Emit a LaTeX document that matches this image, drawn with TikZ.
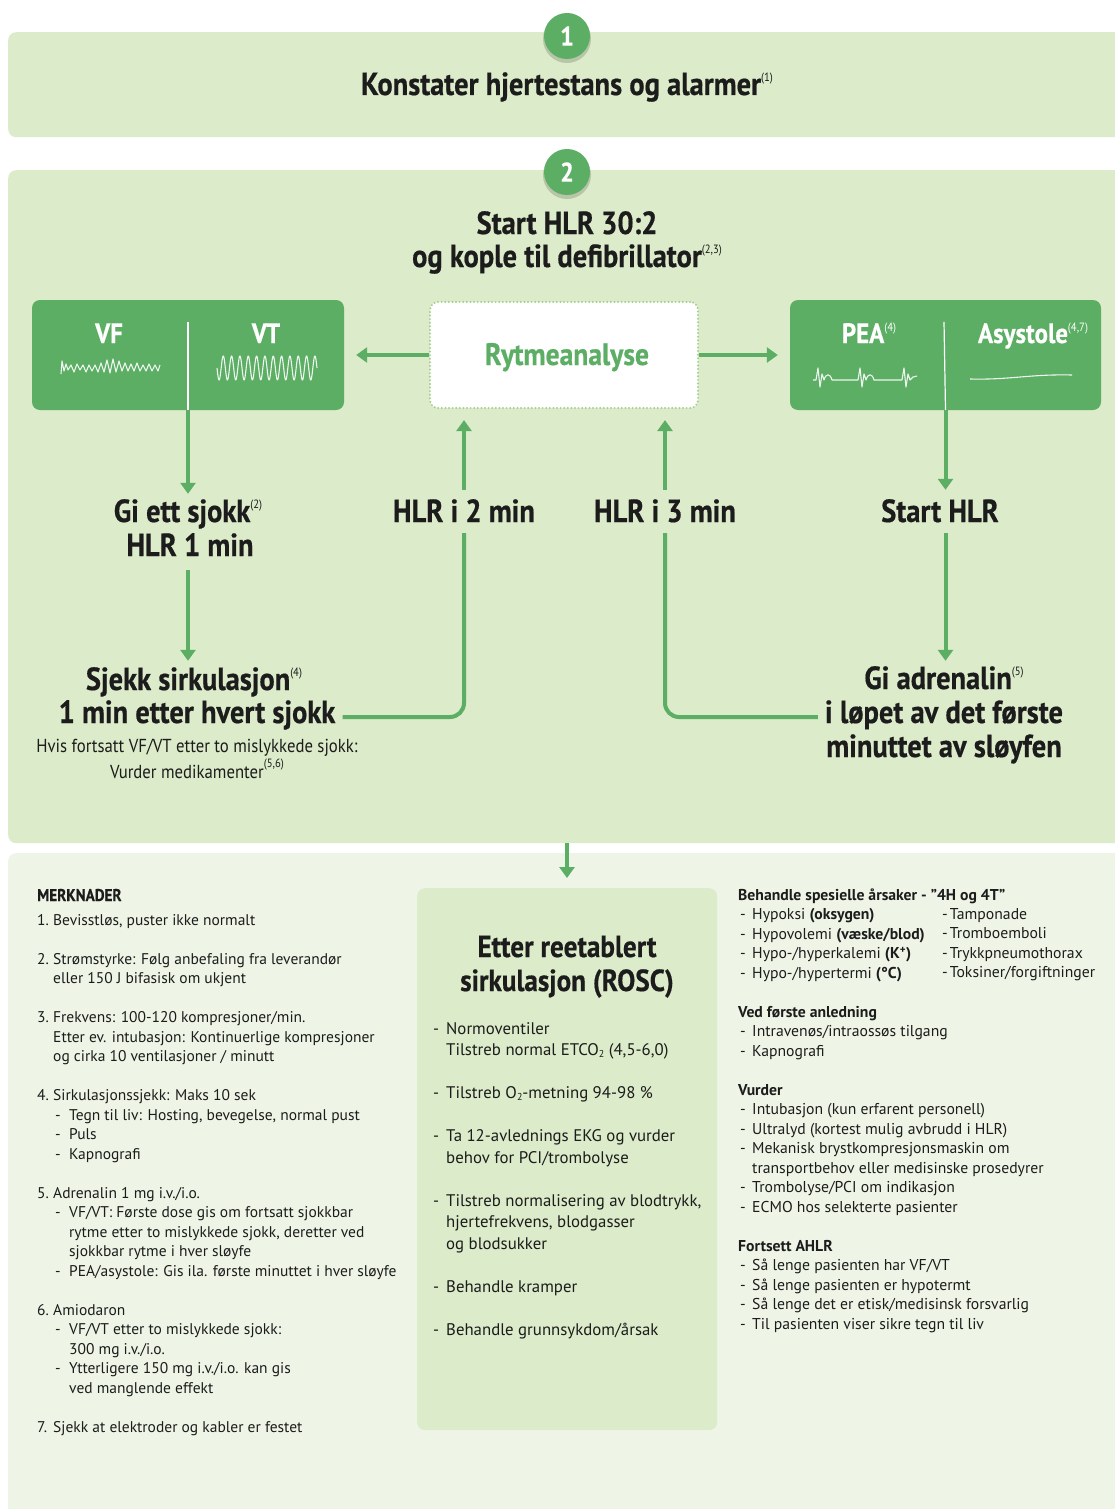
\documentclass[tikz,border=0pt]{standalone}
\usepackage{fontspec}
\setmainfont{PT Sans}
\newfontfamily\hdf{PT Sans}[FakeStretch=0.89, BoldFeatures={FakeBold=0.5}]
\usetikzlibrary{arrows.meta}
\definecolor{lg}{HTML}{DCEBC9}
\definecolor{pg}{HTML}{EEF5E6}
\definecolor{dg}{HTML}{5BAE63}
\definecolor{dotc}{HTML}{A3D08E}
\definecolor{ink}{HTML}{1C1C1C}
\newcommand\fs[2]{\fontsize{#1}{#2}\selectfont\setbox\strutbox\hbox{\vrule height .7\baselineskip depth .3\baselineskip width 0pt}}
\newcommand\sups[1]{\raisebox{0.42em}{\fontsize{12}{12}\selectfont\mdseries(#1)}}
\newcommand\mtab[2]{\begin{tabular}[t]{@{}#1@{}}#2\end{tabular}}
\newcommand\Nm[1]{\makebox[16pt][l]{#1}}
\newcommand\Cn{\hspace*{16pt}}
\newcommand\Sb{\hspace*{18pt}\makebox[14pt][l]{-}}
\newcommand\Sc{\hspace*{32pt}}
\newcommand\Rd{\makebox[13pt][l]{-}}
\newcommand\Rc{\hspace*{13pt}}
\newcommand\Qd{\hspace*{2pt}\makebox[12pt][l]{-}}
\newcommand\Qc{\hspace*{14pt}}
\newcommand\subtwo{\raisebox{-0.12em}{\fontsize{10}{10}\selectfont 2}}
\begin{document}
\begin{tikzpicture}[x=1pt,y=-1pt,
  hd/.style={font={\hdf\bfseries\fs{32}{34}}, text=ink, text height=22pt, text depth=10pt, inner xsep=7pt, inner ysep=6pt, anchor=base},
  sub/.style={font={\hdf\fs{18.8}{21}}, text=ink, inner sep=0pt, anchor=base},
  lab/.style={font={\hdf\bfseries\fs{28}{30}}, text=white, inner sep=0pt, anchor=base},
  body/.style={font={\fs{15.5}{19.5}}, text=ink, inner sep=0pt, anchor=base west},
  rbox/.style={fill=dg, rounded corners=8pt, inner sep=0pt},
  ln/.style={draw=dg, line width=4pt},
  arr/.style={draw=dg, line width=4pt, -{Triangle[width=15pt,length=11pt]}},
  ecg/.style={draw=white, line width=1.1pt, line join=round, opacity=.9},
  num/.style={circle, fill=dg, minimum size=46pt, inner sep=0pt, text=white, font={\hdf\bfseries\fs{27}{28}}}
]
\path[use as bounding box] (0,0) rectangle (1115,1509);
\fill[white] (0,0) rectangle (1115,1509);
% panels
\node[fill=lg, rounded corners=8pt, minimum width=1117pt, minimum height=105pt, anchor=north west, inner sep=0pt] (box1) at (8,32) {};
\node[fill=lg, rounded corners=8pt, minimum width=1117pt, minimum height=673pt, anchor=north west, inner sep=0pt] (box2) at (8,170) {};
\node[fill=pg, rounded corners=8pt, minimum width=1117pt, minimum height=680pt, anchor=north west, inner sep=0pt] (box3) at (8,853) {};
% number circles
\fill[black, opacity=.16] (567,39) circle (24pt);
\node[num] (c1) at (567,36) {1};
\fill[black, opacity=.16] (567,175) circle (24pt);
\node[num] (c2) at (567,172) {2};
% step 1
\node[hd] (t1) at (567,95) {Konstater hjertestans og alarmer\sups{1}};
% step 2 header
\node[hd] (t2a) at (567,234) {Start HLR 30:2};
\node[hd] (t2b) at (567,267) {og kople til defibrillator\sups{2,3}};
% rhythm boxes
\node[rbox, minimum width=312pt, minimum height=110pt] (vfbox) at (188,355) {};
\node[rbox, minimum width=311pt, minimum height=110pt] (peabox) at (945.5,355) {};
\node[fill=white, draw=dotc, line width=2.2pt, dash pattern=on 0pt off 3.6pt, line cap=round, rounded corners=8pt, minimum width=268pt, minimum height=106pt, inner sep=0pt] (ryt) at (564,355) {};
\node[font={\hdf\bfseries\fs{31}{32}}, text=dg, inner sep=0pt, anchor=base] (rytt) at (567,365) {Rytmeanalyse};
\draw[white, line width=1.2pt] (vfbox.north) ++(0,22) coordinate (vfd1) -- (vfbox.south) ++(0,-20) coordinate (vfd2);
\draw[white, line width=1.2pt] (peabox.north) ++(-1.5,22) coordinate (ped1) -- (peabox.south) ++(-1.5,-20) coordinate (ped2);
\node[lab] (vf) at (109,343) {VF};
\node[lab] (vt) at (266,343) {VT};
\node[lab] (pea) at (869,343) {PEA\sups{4}};
\node[lab] (asy) at (1033,343) {Asystole\sups{4,7}};
% ECG traces
\draw[ecg] (61,374) -- (62,361) -- (64,371) -- (66,364) -- (68,370) -- (71,365) -- (74,372) -- (77,364) -- (80,370) -- (83,365) -- (86,372) -- (89,365) -- (92,371) -- (95,365) -- (98,372) -- (101,363) -- (104,372) -- (107,360) -- (110,373) -- (113,359) -- (116,372) -- (119,361) -- (122,371) -- (125,363) -- (128,371) -- (131,364) -- (134,371) -- (137,363) -- (140,371) -- (143,365) -- (146,371) -- (149,364) -- (152,371) -- (155,365) -- (158,371) -- (160,365);
\draw[ecg] plot[domain=0:100, samples=240, smooth] ({217+\x},{368+12*sin(\x*43.2)});
\draw[ecg] (813,380) -- (816,380) -- (818,368) -- (820,387) -- (822,374) -- (824,380) .. controls (826,373) and (830,373) .. (832,380) -- (858,380) -- (860,368) -- (862,387) -- (864,374) -- (866,380) .. controls (868,373) and (872,373) .. (874,380) -- (902,380) -- (904,368) -- (906,387) -- (908,374) -- (910,380) -- (913,377) -- (917,376);
\draw[ecg] (970,379) .. controls (1010,380) and (1030,374) .. (1072,375);
\draw[arr, shorten >=12pt] (ryt.west) -- (vfbox.east);
\draw[arr, shorten >=12pt] (ryt.east) -- (peabox.west);
% left branch
\node[hd] (gi1) at (188,522) {Gi ett sjokk\sups{2}};
\node[hd, inner ysep=4pt] (gi2) at (190,556) {HLR 1 min};
\node[hd, inner ysep=7pt] (sjA) at (194,690) {Sjekk sirkulasjon\sups{4}};
\node[hd] (sjB) at (197,723) {1 min etter hvert sjokk};
\node[sub] (sjC) at (197,752) {Hvis fortsatt VF/VT etter to mislykkede sjokk:};
\node[sub] (sjD) at (197,778) {Vurder medikamenter\raisebox{0.12em}{\sups{5,6}}};
\draw[arr] (vfbox.south) -- (vfbox.south |- gi1.north);
\draw[arr] (vfbox.south |- gi2.south) -- (vfbox.south |- sjA.north);
% middle loops
\node[hd, text depth=1pt, inner ysep=10pt] (hlr2) at (464,522) {HLR i 2 min};
\node[hd, text depth=1pt, inner ysep=10pt] (hlr3) at (665,522) {HLR i 3 min};
\draw[ln, rounded corners=14pt] (sjB.east) -| (hlr2.south);
\draw[arr, shorten >=11pt] (hlr2.north) -- (hlr2.north |- ryt.south);
% right branch
\node[hd, text depth=1pt, inner ysep=10pt] (st) at (940,522) {Start HLR};
\node[hd, inner ysep=6pt] (adrA) at (944,689) {Gi adrenalin\sups{5}};
\node[hd] (adrB) at (944,723) {i løpet av det første};
\node[hd] (adrC) at (944,757) {minuttet av sløyfen};
\draw[ln, rounded corners=14pt] (adrB.west) -| (hlr3.south);
\draw[arr, shorten >=11pt] (hlr3.north) -- (hlr3.north |- ryt.south);
\draw[arr] (peabox.south) -- (peabox.south |- st.north);
\draw[arr] (peabox.south |- st.south) -- (peabox.south |- adrA.north);
% ROSC
\node[fill=lg, rounded corners=8pt, minimum width=300pt, minimum height=542pt, anchor=north west, inner sep=0pt] (rosc) at (417,888) {};
\draw[arr, shorten >=10pt] (c2 |- box2.south) -- (c2 |- rosc.north);
\node[hd, font={\hdf\bfseries\fs{30.5}{34}}] (rt1) at (567,957) {Etter reetablert};
\node[hd, font={\hdf\bfseries\fs{30.5}{34}}] (rt2) at (567,991) {sirkulasjon (ROSC)};
\node[body, font={\fs{16.8}{21.5}}] (rl) at (433,1034) {\mtab{l}{%
\Rd Normoventiler\\
\Rc Tilstreb normal ETCO\subtwo\ (4,5-6,0)\\
\\
\Rd Tilstreb O\subtwo-metning 94-98 \%\\
\\
\Rd Ta 12-avlednings EKG og vurder\\
\Rc behov for PCI/trombolyse\\
\\
\Rd Tilstreb normalisering av blodtrykk,\\
\Rc hjertefrekvens, blodgasser\\
\Rc og blodsukker\\
\\
\Rd Behandle kramper\\
\\
\Rd Behandle grunnsykdom/årsak}};
% notes left
\node[font={\hdf\bfseries\fs{17}{18}}, text=ink, inner sep=0pt, anchor=base west] (merk) at (37,901) {MERKNADER};
\node[body] (notes) at (37,925) {\mtab{l}{%
\Nm{1.}Bevisstløs, puster ikke normalt\\
\\
\Nm{2.}Strømstyrke: Følg anbefaling fra leverandør\\
\Cn eller 150 J bifasisk om ukjent\\
\\
\Nm{3.}Frekvens: 100-120 kompresjoner/min.\\
\Cn Etter ev. intubasjon: Kontinuerlige kompresjoner\\
\Cn og cirka 10 ventilasjoner / minutt\\
\\
\Nm{4.}Sirkulasjonssjekk: Maks 10 sek\\
\Sb Tegn til liv: Hosting, bevegelse, normal pust\\
\Sb Puls\\
\Sb Kapnografi\\
\\
\Nm{5.}Adrenalin 1 mg i.v./i.o.\\
\Sb VF/VT: Første dose gis om fortsatt sjokkbar\\
\Sc rytme etter to mislykkede sjokk, deretter ved\\
\Sc sjokkbar rytme i hver sløyfe\\
\Sb PEA/asystole: Gis ila. første minuttet i hver sløyfe\\
\\
\Nm{6.}Amiodaron\\
\Sb VF/VT etter to mislykkede sjokk:\\
\Sc 300 mg i.v./i.o.\\
\Sb Ytterligere 150 mg i.v./i.o. kan gis\\
\Sc ved manglende effekt\\
\\
\Nm{7.}Sjekk at elektroder og kabler er festet}};
% right column
\node[body, font={\fs{15.7}{19.5}}] (right) at (738,900) {\mtab{l}{%
\textbf{Behandle spesielle årsaker - ”4H og 4T”}\\
\Qd Hypoksi \textbf{(oksygen)}\\
\Qd Hypovolemi \textbf{(væske/blod)}\\
\Qd Hypo-/hyperkalemi \textbf{(K\textsuperscript{+})}\\
\Qd Hypo-/hypertermi \textbf{(°C)}\\
\\
\textbf{Ved første anledning}\\
\Qd Intravenøs/intraossøs tilgang\\
\Qd Kapnografi\\
\\
\textbf{Vurder}\\
\Qd Intubasjon (kun erfarent personell)\\
\Qd Ultralyd (kortest mulig avbrudd i HLR)\\
\Qd Mekanisk brystkompresjonsmaskin om\\
\Qc transportbehov eller medisinske prosedyrer\\
\Qd Trombolyse/PCI om indikasjon\\
\Qd ECMO hos selekterte pasienter\\
\\
\textbf{Fortsett AHLR}\\
\Qd Så lenge pasienten har VF/VT\\
\Qd Så lenge pasienten er hypotermt\\
\Qd Så lenge det er etisk/medisinsk forsvarlig\\
\Qd Til pasienten viser sikre tegn til liv}};
\node[body, font={\fs{15.7}{19.5}}] (fourT) at (942,919) {\mtab{l}{%
-\hspace{2pt}Tamponade\\
-\hspace{2pt}Tromboemboli\\
-\hspace{2pt}Trykkpneumothorax\\
-\hspace{2pt}Toksiner/forgiftninger}};
\end{tikzpicture}
\end{document}
